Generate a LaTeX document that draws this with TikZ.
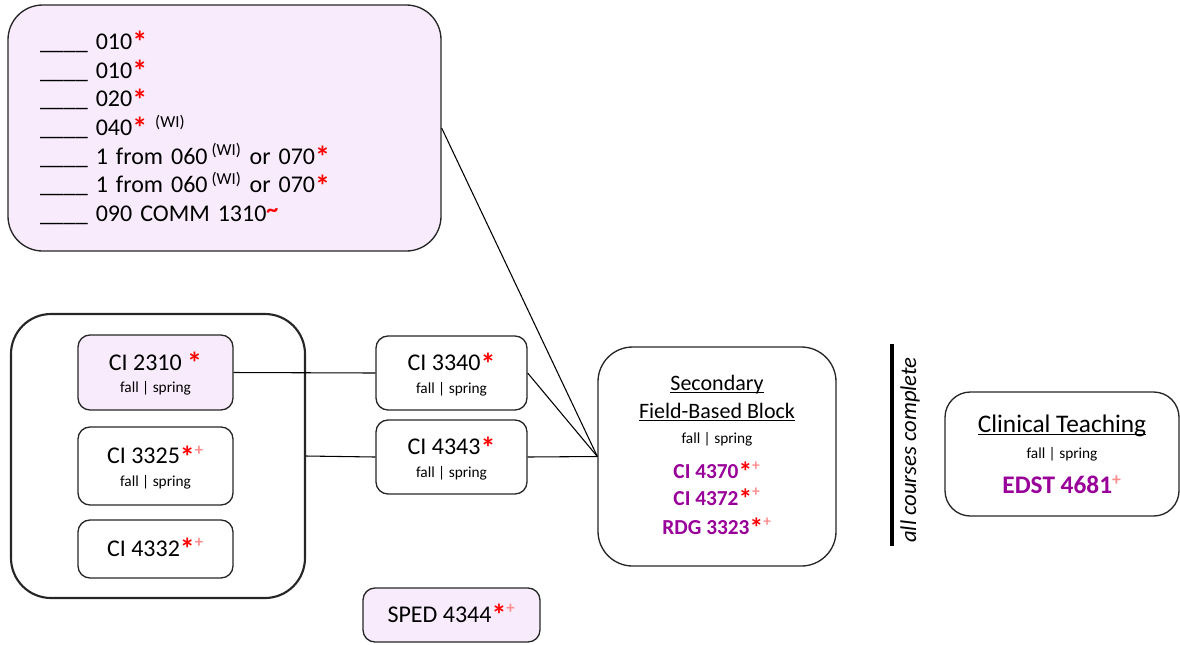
\documentclass[tikz,border=0pt]{standalone}
\usepackage{fontspec}
\usepackage{graphicx}
\setmainfont{Carlito}

\definecolor{boxfill}{RGB}{248,236,252}
\definecolor{reqred}{RGB}{255,0,0}
\definecolor{plusred}{RGB}{255,140,140}
\definecolor{coursepurple}{RGB}{153,0,153}

\newcommand{\req}{\textcolor{reqred}{\raisebox{-2.6pt}{\scalebox{1.25}{\textbf{*}}}}}
\newcommand{\opt}{\textsuperscript{\textcolor{plusred}{\textbf{+}}}}
\newcommand{\wi}{\textsuperscript{(WI)}}
\newcommand{\oral}{\raisebox{0.35ex}{\textcolor{reqred}{\textbf{\textasciitilde}}}}
\newcommand{\blank}{\_\_\_\_}
\newcommand{\term}{{\fontsize{11.5}{14}\selectfont fall | spring}}
\newcommand{\uln}[1]{\setbox0\hbox{#1}\rlap{\rule[-2.2pt]{\wd0}{0.8pt}}\box0}
\newcommand{\crs}[1]{{\color{coursepurple}\bfseries\fontsize{16}{21}\selectfont #1}}

\begin{document}
\begin{tikzpicture}[x=0.75pt, y=-0.75pt,
	box/.style={draw=black!85, line width=1pt, rounded corners=9pt, align=center, inner sep=0pt, font=\fontsize{18}{21}\selectfont},
	twoline/.style={text depth=-3.7pt},
	shaded/.style={fill=boxfill},
	link/.style={line width=0.8pt}]
		\useasboundingbox (0,0) rectangle (1180,644);

		% General education block
		\node[box, shaded, rounded corners=26pt, minimum width=324.75pt, minimum height=184.5pt,
			align=left, inner xsep=24pt, text width=276.75pt, font=\fontsize{18}{21.5}\selectfont] (gened) at (224.5,128) {%
			\blank{} 010\req\\
			\blank{} 010\req\\
			\blank{} 020\req\\
			\blank{} 040\req{} \wi\\
			\blank{} 1 from 060\,\wi{} or 070\req\\
			\blank{} 1 from 060\,\wi{} or 070\req\\
			\blank{} 090 COMM 1310\oral};

		% Outer group and its courses
		\node[box, line width=1.6pt, rounded corners=30pt, minimum width=220.5pt, minimum height=213pt] (group) at (158,456) {};
		\node[box, twoline, shaded, minimum width=116.25pt, minimum height=56.25pt] (ci2310) at (155.5,372.5) {CI 2310 \req\\[-4.3pt] \term};
		\node[box, twoline, minimum width=116.25pt, minimum height=58.5pt] (ci3325) at (155.5,466) {CI 3325\req\opt\\[-4.3pt] \term};
		\node[box, minimum width=116.25pt, minimum height=43.5pt] (ci4332) at (155.5,549) {CI 4332\req\opt};

		% Middle column
		\node[box, twoline, minimum width=113.25pt, minimum height=55.5pt] (ci3340) at (451.5,373) {CI 3340\req\\[-4.3pt] \term};
		\node[box, twoline, minimum width=113.25pt, minimum height=55.5pt] (ci4343) at (451.5,457) {CI 4343\req\\[-4.3pt] \term};
		\node[box, shaded, minimum width=132.75pt, minimum height=40.5pt] (sped) at (451.5,615) {SPED 4344\req\opt};

		% Field-based block
		\node[box, rounded corners=26pt, minimum width=178.5pt, minimum height=164.25pt, font=\fontsize{16.5}{21}\selectfont] (block) at (717,456.5) {%
			\uln{Secondary}\\
			\uln{Field-Based Block}\\[-2pt]
			\term\\[5pt]
			\crs{CI 4370}\req\opt\\[-1pt]
			\crs{CI 4372}\req\opt\\[1pt]
			\crs{RDG 3323}\req\opt};

		% Divider
		\draw[line width=3pt] (892,344) -- (892,546);
		\node[rotate=90, inner sep=0pt, font=\fontsize{17}{20}\selectfont\itshape] (done) at (910,450) {all courses complete};

		% Clinical teaching
		\node[box, rounded corners=19pt, minimum width=175.5pt, minimum height=93pt, font=\fontsize{19}{21}\selectfont] (clinical) at (1062,454) {%
			\uln{Clinical Teaching}\\[-1pt]
			\term\\[5pt]
			{\color{coursepurple}\bfseries EDST 4681}\opt};

		% Connectors
		\draw[link] (gened.east) -- (block.west);
		\draw[link] (ci2310.east) -- (ci3340.west);
		\draw[link] (ci3340.east) -- (block.west);
		\draw[link] (group.east) -- (ci4343.west);
		\draw[link] (ci4343.east) -- (block.west);

	\end{tikzpicture}
\end{document}
